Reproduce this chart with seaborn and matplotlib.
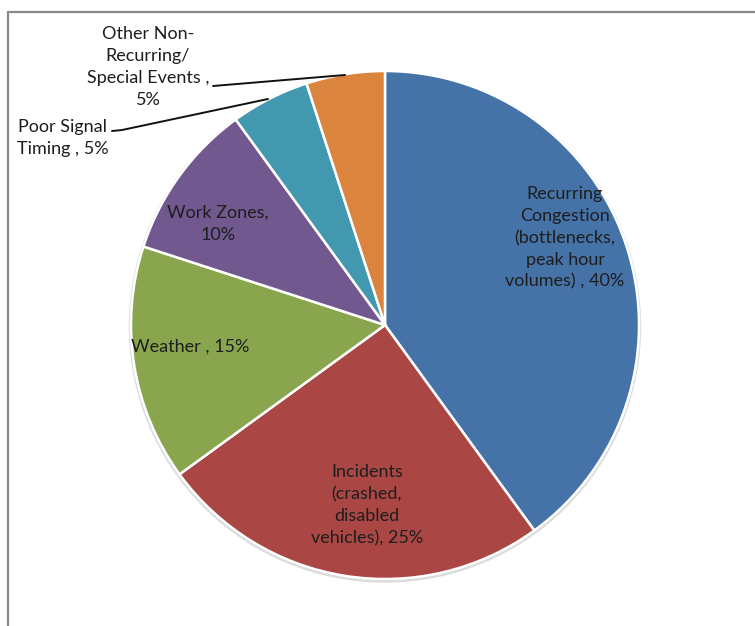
import matplotlib
matplotlib.use("Agg")
import matplotlib.pyplot as plt
import seaborn as sns

categories = [
    "Recurring\nCongestion\n(bottlenecks,\npeak hour\nvolumes) , 40%",
    "Incidents\n(crashed,\ndisabled\nvehicles), 25%",
    "Weather , 15%",
    "Work Zones,\n10%",
    "Poor Signal\nTiming , 5%",
    "Other Non-\nRecurring/\nSpecial Events ,\n5%",
]
values = [40, 25, 15, 10, 5, 5]
colors = ["#4572A7", "#AA4643", "#89A54E", "#71588F", "#4198AF", "#DB843D"]

sns.set_theme(style="white")
plt.rcParams['font.family'] = ['Lato', 'DejaVu Sans']

W, H = 755, 626
fig = plt.figure(figsize=(W / 100, H / 100), dpi=100)
ax = fig.add_axes([0, 0, 1, 1])
ax.set_xlim(0, W)
ax.set_ylim(0, H)
ax.set_aspect("equal")
ax.axis("off")

cx, cy, r = 385, 301, 254

# faint shadow halo
shadow = plt.Circle((cx, cy - 1.5), r + 1.5, color="#dcdcdc", zorder=0)
ax.add_patch(shadow)

ax.pie(values, colors=colors, startangle=90, counterclock=False,
       center=(cx, cy), radius=r, frame=True,
       wedgeprops=dict(edgecolor="white", linewidth=1.8))
ax.set_xlim(0, W)
ax.set_ylim(0, H)
ax.axis("off")

label_pos = [
    (565, 388, "center"),
    (367, 121, "center"),
    (190, 279, "center"),
    (218, 402, "center"),
    (63, 488, "center"),
    (148, 559, "center"),
]
for text, (x, y, ha) in zip(categories, label_pos):
    ax.text(x, y, text, ha=ha, va="center", multialignment="center",
            fontsize=13, color="#1e1e1e", linespacing=1.45)

# leader lines
ax.plot([213, 345], [540, 551], color="#111111", lw=1.4)
ax.plot([112, 122, 268], [495, 496, 527], color="#111111", lw=1.4)

# border
ax.plot([8, W], [614, 614], color="#8a8a8a", lw=1.6)
ax.plot([8, 8], [614, 0], color="#8a8a8a", lw=1.6)

fig.savefig("out.png", dpi=100)
